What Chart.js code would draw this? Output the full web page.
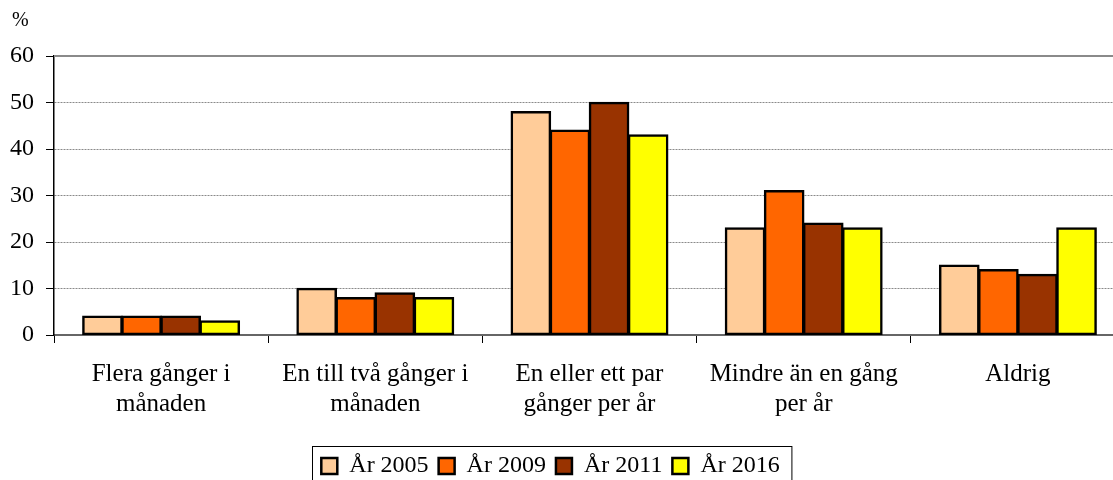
<!DOCTYPE html>
<html>
<head>
<meta charset="utf-8">
<script src="https://cdn.jsdelivr.net/npm/chart.js@4"></script>
<style>
  html, body { margin: 0; padding: 0; background: #fff; overflow: hidden; }
  #wrap { width: 1126px; height: 480px; }
</style>
</head>
<body>
<div id="wrap"><canvas id="myChart" width="1126" height="480"></canvas></div>
<script>
const categories = [
    ["Flera gånger i", "månaden"],
    ["En till två gånger i", "månaden"],
    ["En eller ett par", "gånger per år"],
    ["Mindre än en gång", "per år"],
    ["Aldrig"]
];
const seriesNames = ["År 2005", "År 2009", "År 2011", "År 2016"];
const values2005 = [4, 10, 48, 23, 15];
const values2009 = [4, 8, 44, 31, 14];
const values2011 = [4, 9, 50, 24, 13];
const values2016 = [3, 8, 43, 23, 23];
const seriesColors = ["#FFCC99", "#FF6600", "#993300", "#FFFF00"];
const yTicks = [0, 10, 20, 30, 40, 50, 60];

const FONT = "'Liberation Serif', 'Times New Roman', serif";

const allValues = [values2005, values2009, values2011, values2016];

const datasets = seriesNames.map((name, i) => ({
    label: name,
    data: allValues[i],
    backgroundColor: seriesColors[i],
    borderColor: "#000",
    borderWidth: 2.5,
    borderSkipped: false,
    inflateAmount: 0.8,
    barPercentage: 1,
    categoryPercentage: 0.73
}));

// "%" unit, solid top line, legend frame
const extras = {
    id: "extras",
    afterLayout(chart) {
        // legend is centred under the visible window, not the wider canvas
        chart.legend.left -= 12;
        chart.legend.right -= 12;
    },
    afterDraw(chart) {
        const c = chart.ctx;
        const a = chart.chartArea;
        c.save();
        c.strokeStyle = "#8a8a8a";
        c.lineWidth = 2;
        c.beginPath();
        c.moveTo(a.left, a.top);
        c.lineTo(a.right, a.top);
        c.stroke();

        c.fillStyle = "#000";
        c.font = "20px " + FONT;
        c.textBaseline = "middle";
        c.fillText("%", 12, 21);

        const boxes = chart.legend.legendHitBoxes;
        if (boxes && boxes.length) {
            const l = Math.min(...boxes.map(b => b.left)) - 9;
            const r = Math.max(...boxes.map(b => b.left + b.width)) + 12;
            const t = Math.min(...boxes.map(b => b.top)) - 8;
            c.strokeStyle = "#000";
            c.lineWidth = 1;
            c.strokeRect(Math.round(l) + 0.5, Math.round(t) + 0.5, r - l, 50);
        }
        c.restore();
    }
};

const config = {
    type: "bar",
    data: { labels: categories, datasets },
    options: {
        responsive: false,
        animation: false,
        layout: { padding: { top: 56, right: 1, left: 0, bottom: -8 } },
        plugins: {
            legend: {
                position: "bottom",
                labels: {
                    color: "#000",
                    font: { family: FONT, size: 24 },
                    boxWidth: 16,
                    boxHeight: 16,
                    padding: 10
                }
            },
            title: { display: false },
            tooltip: { enabled: false }
        },
        scales: {
            x: {
                afterFit: (scale) => { scale.height = 109; },
                grid: {
                    drawOnChartArea: false,
                    drawTicks: true,
                    tickLength: 8,
                    tickColor: "#000",
                    offset: true
                },
                border: { color: "#666", width: 2 },
                ticks: {
                    color: "#000",
                    font: { family: FONT, size: 25, lineHeight: 1.2 },
                    padding: 16,
                    maxRotation: 0,
                    autoSkip: false
                }
            },
            y: {
                min: yTicks[0],
                max: yTicks[yTicks.length - 1],
                afterFit: (scale) => { scale.width = 54; },
                afterBuildTicks: (scale) => { scale.ticks = yTicks.map(v => ({ value: v })); },
                grid: {
                    color: (ctx) => (ctx.tick && (ctx.tick.value === 0 || ctx.tick.value === 60)) ? "rgba(0,0,0,0)" : "#8a8a8a",
                    lineWidth: 1,
                    drawTicks: true,
                    tickLength: 8,
                    tickColor: "#000"
                },
                border: { color: "#000", width: 1.5, dash: [2, 1] },
                ticks: {
                    color: "#000",
                    font: { family: FONT, size: 24 },
                    padding: 12
                }
            }
        }
    },
    plugins: [extras]
};

const ctx = document.getElementById("myChart");
let myChart = new Chart(ctx, config);
</script>
</body>
</html>
